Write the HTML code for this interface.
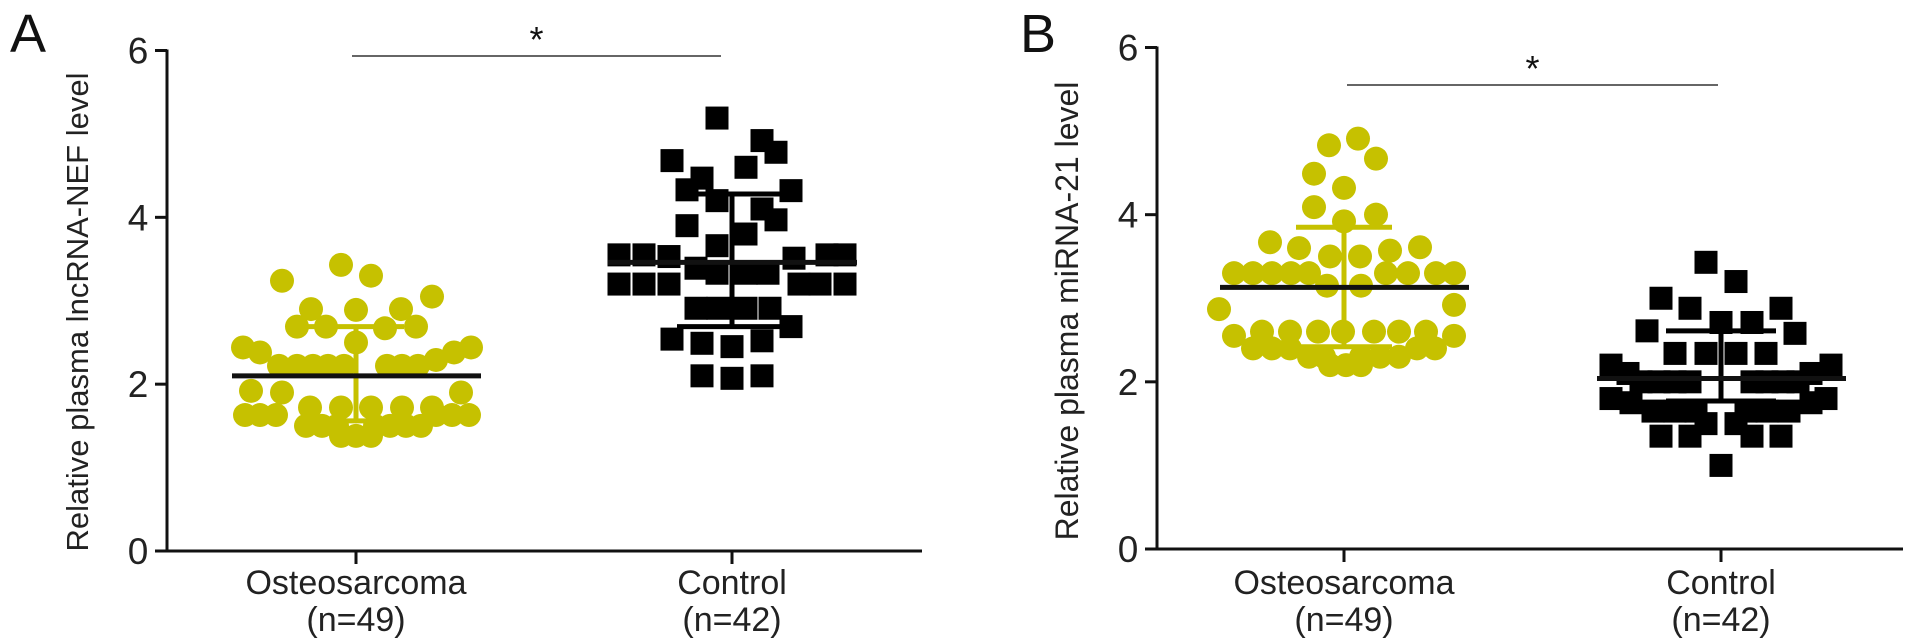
<!DOCTYPE html>
<html><head><meta charset="utf-8"><style>
html,body{margin:0;padding:0;background:#fff;}
svg{display:block;font-family:"Liberation Sans",Arial,sans-serif;}
</style></head><body>
<svg id="fig" width="1913" height="641" viewBox="0 0 1913 641" xmlns="http://www.w3.org/2000/svg"></svg>
<script>
const categories = ["Osteosarcoma", "Control"];
const nLabels = ["(n=49)", "(n=42)"];
const yTicks = [0, 2, 4, 6];
const aOsteoVals = [3.24,3.43,3.30,3.05,2.90,2.89,2.90,2.69,2.69,2.67,2.69,2.50,2.44,2.38,2.44,2.38,2.29,
 2.22,2.22,2.22,2.22,2.22,2.22,2.22,2.22, 1.92,1.90,1.90, 1.72,1.72,1.72,1.72,1.72,
 1.63,1.63,1.63,1.63,1.63,1.63, 1.50,1.50,1.50,1.50,1.50,1.50,1.50, 1.38,1.38,1.38];
const aOsteoJit = [-74,-15,15,76,-45,0,45,-59,-30,29,60,0,-113,-96,115,98,80,
 -77,-59,-43,-28,-12,31,46,62, -105,-74,105, -46,-15,15,46,76,
 -111,-96,-80,80,96,113, -50,-34,-19,19,34,50,65, -15,0,15];
const aCtrlVals = [5.19,4.92,4.78,4.68,4.60,4.47,4.33,4.32,4.20,4.10,3.97,3.90,3.80,3.66,
 3.55,3.55,3.55,3.55, 3.53,3.51, 3.39, 3.33,3.33,3.33, 3.2,3.2,3.2,3.2,3.2,3.2,
 2.91,2.91,2.91,2.91, 2.69, 2.54,2.49,2.45,2.52, 2.10,2.07,2.10];
const aCtrlJit = [-15,30,44,-60,14,-30,-45,59,-15,30,44,-45,14,-15,
 -113,-88,95,113, -63,62, -36, -15,14,36, -113,-88,-63,67,88,113,
 -36,-14,14,38, 59, -60,-30,0,30, -30,0,30];
const aStats = {osteo:[2.10,2.69,1.56], ctrl:[3.46,4.28,2.69]};
const bOsteoVals = [4.91,4.83,4.67,4.49,4.32,4.09,4.0,3.92,3.67,3.60,3.50,3.50,3.57,3.61,
 3.3,3.3,3.3,3.3,3.3,3.3,3.3,3.3,3.3, 2.87,2.92, 2.6,2.6,2.6,2.6,2.6,2.6,2.6,
 2.55,2.55, 2.4,2.4,2.4,2.4,2.4, 2.3,2.3,2.3,2.3,2.3, 2.2,2.2,2.2, 3.15,3.15];
const bOsteoJit = [14,-15,32,-30,0,-30,32,0,-74,-45,-14,16,46,76,
 -110,-91,-72,-53,-35,42,64,92,110, -125,110, -82,-54,-26,-1,30,55,82,
 -110,110, -91,-72,-54,73,91, -35,-20,17,36,55, -14,2,17, -17,17];
const bCtrlVals = [3.43,3.2,3.0,2.88,2.88,2.71,2.71,2.61,2.58,2.34,2.34,2.34,2.34,
 2.2,2.2, 2.1,2.1, 2.0,2.0,2.0,2.0,2.0,2.0,2.0,2.0, 1.8,1.8, 1.75,1.75,
 1.65,1.65,1.65,1.65,1.65,1.65, 1.5,1.5, 1.35,1.35,1.35,1.35, 1.0];
const bCtrlJit = [-15,15,-60,-31,60,0,31,-74,74,-46,-15,15,45,
 -110,110, -93,90, -80,-62,-46,-31,31,46,62,77, -110,105, -90,90,
 -68,-46,-25,25,46,68, -15,15, -60,-31,31,60, 0];
const bStats = {osteo:[3.13,3.85,2.42], ctrl:[2.04,2.61,1.77]};

const YEL = "#c6c100";
const svg = document.getElementById('fig');
const NS = "http://www.w3.org/2000/svg";
function mk(tag, attrs, parent){ const e=document.createElementNS(NS,tag); for(const k in attrs) e.setAttribute(k,attrs[k]); (parent||svg).appendChild(e); return e; }

function panel(cfg){
  const g = mk('g',{});
  
  
  const y = v => cfg.y0 + (cfg.y6 - cfg.y0) * v / 6;
  const cx = [cfg.c1, cfg.c2];
  const L = mk('text',{x:cfg.lx,y:52,'font-size':54,fill:'#111'},g); L.textContent=cfg.letter;
   
  const ya = mk('line',{x1:cfg.ax,y1:y(6)-1,x2:cfg.ax,y2:y(0)+1.5,stroke:'#111','stroke-width':3},g);
   
  const xa = mk('line',{x1:cfg.ax-1.5,y1:y(0),x2:cfg.xend,y2:y(0),stroke:'#111','stroke-width':3},g);
   
  yTicks.forEach(t=>{
    const tk = mk('line',{x1:cfg.ax-12,y1:y(t),x2:cfg.ax,y2:y(t),stroke:'#111','stroke-width':3},g);
     
    const tl = mk('text',{x:cfg.ax-29,y:y(t)+13,'font-size':37,'text-anchor':'middle',fill:'#222'},g);
    tl.textContent = t;
     
  });
  categories.forEach((c,i)=>{
    const tk = mk('line',{x1:cx[i],y1:y(0),x2:cx[i],y2:y(0)+13,stroke:'#111','stroke-width':3},g);
     
    const t1 = mk('text',{x:cx[i],y:594,'font-size':34,'text-anchor':'middle',fill:'#222'},g);
    t1.textContent = c;
     
    const t2 = mk('text',{x:cx[i],y:631,'font-size':34,'text-anchor':'middle',fill:'#222'},g);
    t2.textContent = nLabels[i];
     
  });
  const yt = mk('text',{x:0,y:0,'font-size':cfg.tf,'text-anchor':'middle',fill:'#222',transform:`translate(${cfg.tx},${cfg.ty}) rotate(-90)`},g);
  yt.textContent = cfg.title;
   
  const sl = mk('line',{x1:cfg.s1,y1:cfg.sy,x2:cfg.s2,y2:cfg.sy,stroke:'#666','stroke-width':2},g);
   
  const st = mk('text',{x:(cfg.s1+cfg.s2)/2,y:cfg.sy-4,'font-size':36,'text-anchor':'middle',fill:'#111'},g);
  st.textContent='*';
   
  cfg.osteo.forEach((v,i)=>{
    const c = mk('circle',{cx:cx[0]+cfg.osteoJ[i],cy:y(v),r:12,fill:YEL},g);
     
  });
  cfg.ctrl.forEach((v,i)=>{
    const r = mk('rect',{x:cx[1]+cfg.ctrlJ[i]-11.5,y:y(v)-11.5,width:23,height:23,fill:'#000'},g);
     
  });
  function stats(s, x, col, capW){
    const [m,hi,lo]=s;
    const v = mk('line',{x1:x,y1:y(hi),x2:x,y2:y(lo),stroke:col,'stroke-width':5},g);
     
    [hi,lo].forEach(q=>{ const c=mk('line',{x1:x-capW,y1:y(q),x2:x+capW,y2:y(q),stroke:col,'stroke-width':5},g);
       });
    const ml = mk('line',{x1:x-124,y1:y(m),x2:x+125,y2:y(m),stroke:'#111','stroke-width':5},g);
     
  }
  stats(cfg.stats.osteo, cx[0], YEL, 48);
  stats(cfg.stats.ctrl, cx[1], '#000', 55);
}
panel({name:'panel-a',letter:'A',lx:10,ax:167,xend:922,y0:551,y6:50.5,c1:356,c2:732,tx:88,ty:312,tf:31,
  title:'Relative plasma lncRNA-NEF level',s1:352,s2:721,sy:56,
  osteo:aOsteoVals,osteoJ:aOsteoJit,ctrl:aCtrlVals,ctrlJ:aCtrlJit,stats:aStats});
panel({name:'panel-b',letter:'B',lx:1020,ax:1157,xend:1903,y0:549,y6:47.5,c1:1344,c2:1721,tx:1078,ty:311,tf:32,
  title:'Relative plasma miRNA-21 level',s1:1347,s2:1718,sy:85,
  osteo:bOsteoVals,osteoJ:bOsteoJit,ctrl:bCtrlVals,ctrlJ:bCtrlJit,stats:bStats});
</script>
</body></html>
